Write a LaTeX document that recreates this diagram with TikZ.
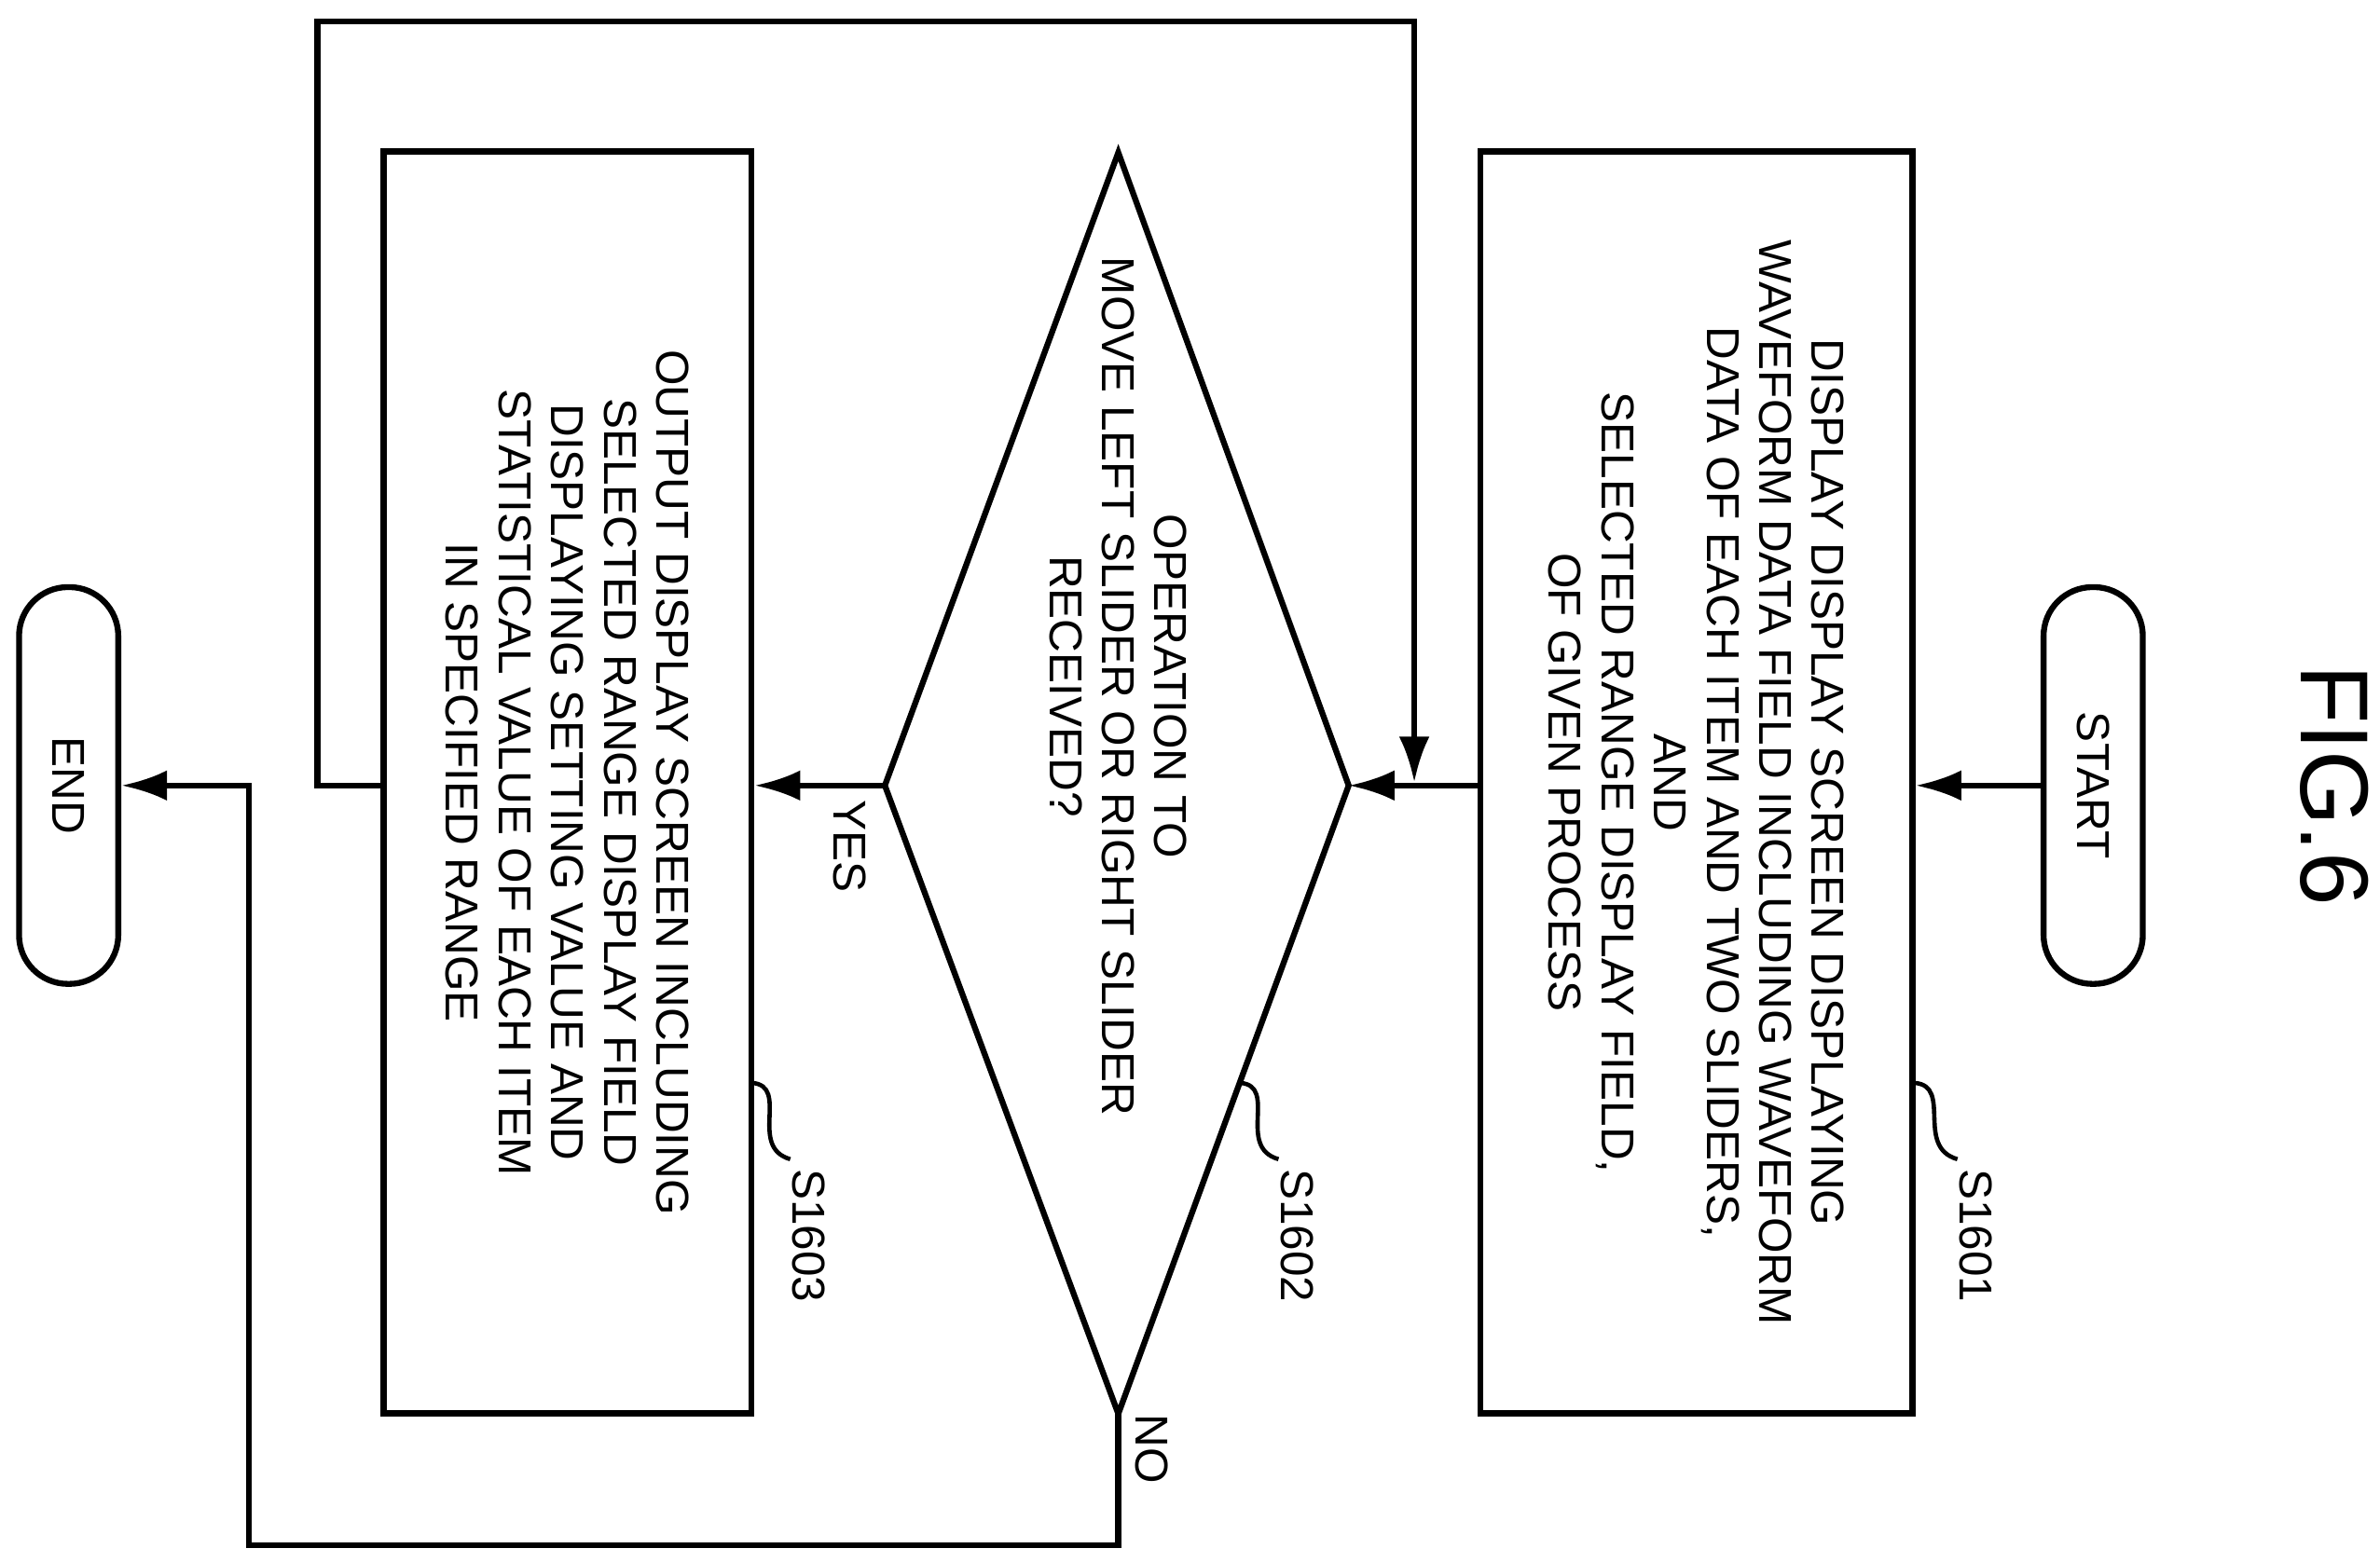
\documentclass[tikz,border=0pt]{standalone}
\usepackage{fontspec}
\setmainfont{Liberation Sans}
\usetikzlibrary{arrows.meta}
\tikzset{
  base/.style={draw=black, line width=1.1pt},
  flow/.style={base, -{Latex[length=3mm,width=2mm]}},
  proc/.style={base, rotate=-90, align=center, inner sep=0pt,
    font=\fontsize{8.6}{9.8}\selectfont},
  term/.style={proc, rounded corners=3.2mm, minimum width=2.6cm, minimum height=0.65cm},
  lab/.style={rotate=-90, font=\fontsize{8.6}{9.8}\selectfont, inner sep=0pt},
}
\begin{document}
\begin{tikzpicture}[x=0.01cm,y=-0.01cm]
  \useasboundingbox (0,0) rectangle (1560,1024);

  \node[lab, font=\fontsize{18}{20}\selectfont] (fig) at (1530,515) {FIG.6};

  % terminals and boxes
  \node[term] (start) at (1372,515) {START};
  \node[proc, minimum width=8.27cm, minimum height=2.83cm] (s1601) at (1112,513)
    {DISPLAY DISPLAY SCREEN DISPLAYING\\WAVEFORM DATA FIELD INCLUDING WAVEFORM\\DATA OF EACH ITEM AND TWO SLIDERS,\\AND\\SELECTED RANGE DISPLAY FIELD,\\OF GIVEN PROCESS};
  \node[proc, minimum width=8.27cm, minimum height=2.41cm] (s1603) at (372,513)
    {OUTPUT DISPLAY SCREEN INCLUDING\\SELECTED RANGE DISPLAY FIELD\\DISPLAYING SETTING VALUE AND\\STATISTICAL VALUE OF EACH ITEM\\IN SPECIFIED RANGE};
  \node[term] (end) at (45,515) {END};

  % decision
  \coordinate (dt) at (733,100);
  \coordinate (db) at (733,927);
  \coordinate (dl) at (580,515);
  \coordinate (dr) at (884,515);
  \draw[base] (dt) -- (dr) -- (db) -- (dl) -- cycle;
  \node[proc, draw=none] (s1602) at (733,450) {OPERATION TO\\MOVE LEFT SLIDER OR RIGHT SLIDER\\RECEIVED?};

  % connectors
  \draw[flow] (start.south) -- (s1601.north |- start.south);
  \draw[flow] (s1601.south |- dr) -- (dr);
  \draw[flow] (dl) -- (s1603.north |- dl);
  \coordinate (lp1) at (208,515);
  \coordinate (lp2) at (208,14);
  \coordinate (lp3) at (927,14);
  \coordinate (lp4) at (927,513);
  \draw[flow] (s1603.south |- lp1) -- (lp1) -- (lp2) -- (lp3) -- (lp4);
  \coordinate (no1) at (733,1013);
  \coordinate (no2) at (163,1013);
  \coordinate (no3) at (163,515);
  \draw[flow] (db) -- (no1) -- (no2) -- (no3) -- (end.north);
  \node[lab] (yes) at (557,555) {YES};
  \node[lab] (no) at (755,950) {NO};

  % step numbers
  \foreach \nm/\xa/\xb in {S1601/1255/1295, S1602/813/850, S1603/493/530}{
    \draw[line width=0.8pt] (\xa,710) .. controls (\xa+25,712) and (\xb-40,752) .. (\xb-12,760);
    \node[lab] at (\xb,810) {\nm};
  }
\end{tikzpicture}
\end{document}
